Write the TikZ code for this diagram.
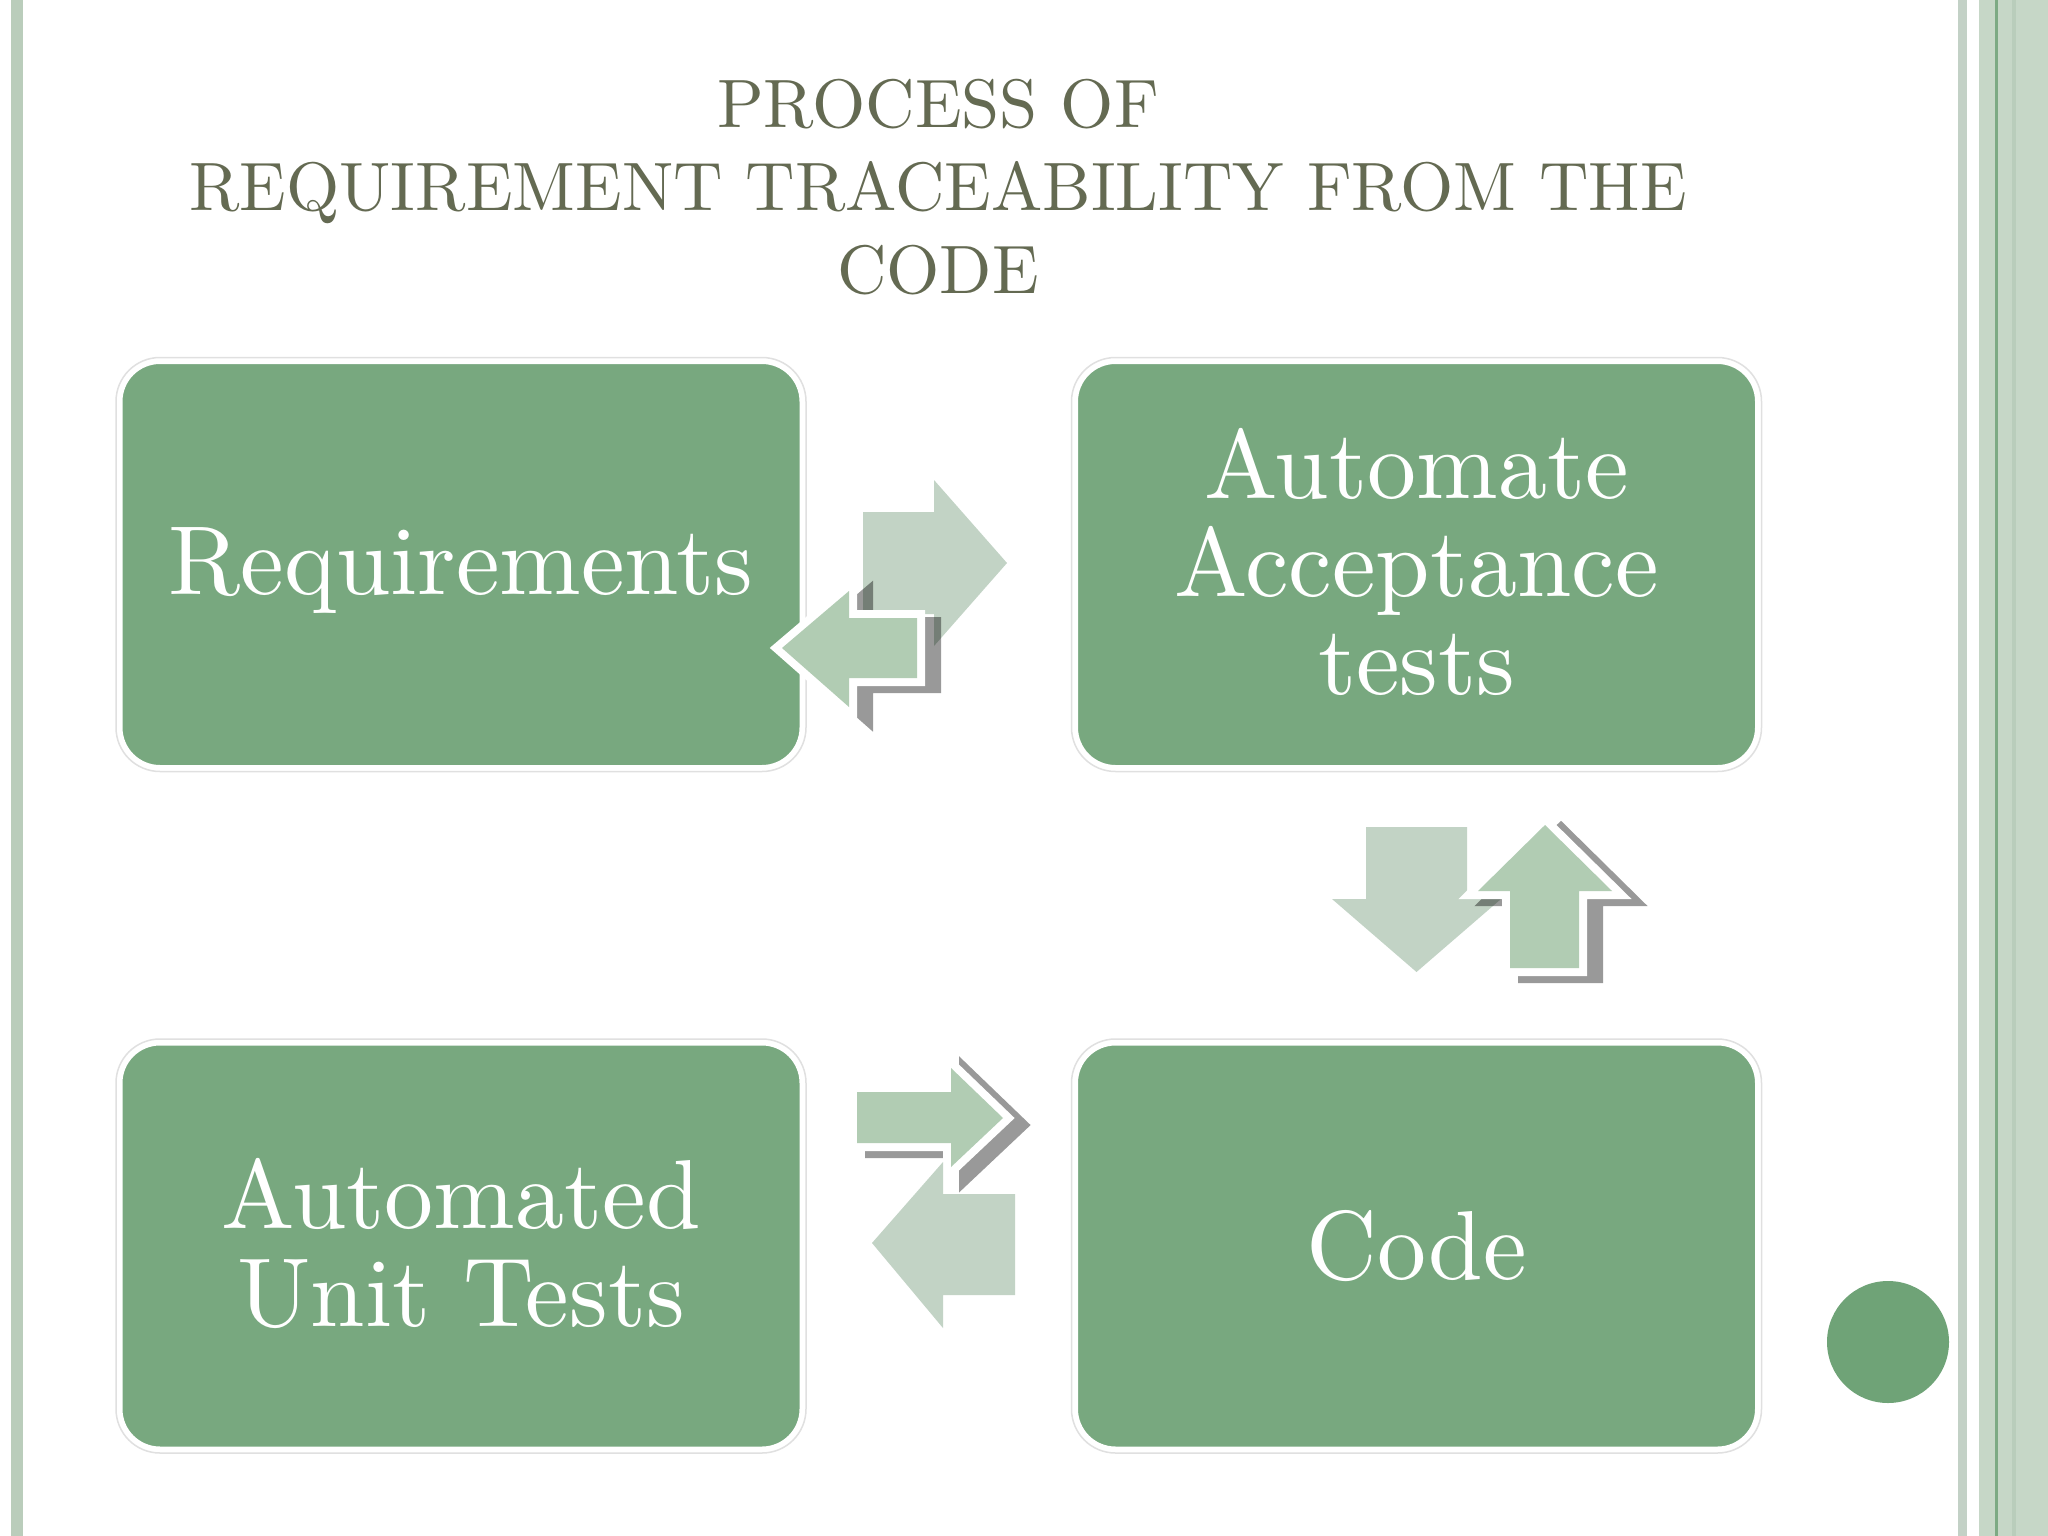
\documentclass[tikz,border=0pt]{standalone}
\usetikzlibrary{calc}
\definecolor{boxgreen}{HTML}{78A87F}
\definecolor{plainarr}{HTML}{C2D3C5}
\definecolor{outarr}{HTML}{B1CCB3}
\definecolor{titlecol}{HTML}{646A52}
\definecolor{stripe}{HTML}{BACDBB}
\definecolor{stripeb}{HTML}{C3D1C6}
\definecolor{band}{HTML}{C6D7C7}
\definecolor{bandline}{HTML}{7DAA84}
\definecolor{bandd}{HTML}{B9CDBB}
\definecolor{dotgreen}{HTML}{6FA377}
\tikzset{
  box/.style={rounded corners=40pt, fill=boxgreen, draw=white, line width=5pt,
    minimum width=682pt, minimum height=406pt, inner sep=0pt},
  boxtext/.style={scale=9.8, transform shape, align=center, text=white,
    font=\fontsize{10}{10.0}\selectfont, inner sep=0pt},
  titletext/.style={scale=6.85, transform shape, align=center, text=titlecol,
    font=\fontsize{10}{12.1}\selectfont, inner sep=0pt},
  boxring/.style={draw=black!12, line width=1.5pt, rounded corners=44pt},
  plainarrow/.style={fill=plainarr},
  outarrow/.style={fill=outarr},
  outline/.style={draw=white, line width=16pt, line join=miter},
  shadowpath/.style={fill=black, draw=black, line width=16pt, line join=miter}
}
\begin{document}
\begin{tikzpicture}[x=1pt,y=-1pt]
\useasboundingbox (0,0) rectangle (2048,1536);
\fill[white] (0,0) rectangle (2048,1536);
% side decorations
\fill[stripe] (11,0) rectangle (23,1536);
\fill[stripeb] (1958,0) rectangle (1967,1536);
\fill[band] (1979,0) rectangle (2048,1536);
\fill[bandd] (2012,0) rectangle (2016,1536);
\fill[bandline] (1995,0) rectangle (1997.5,1536);
% title
\node[titletext] (title) at (938,187)
  {PROCESS OF\\REQUIREMENT TRACEABILITY FROM THE\\CODE};
% boxes
\foreach \cx/\cy in {461/564.5, 1416.5/564.5, 461/1246, 1416.5/1246}
  \draw[boxring] (\cx-345,\cy-207) rectangle (\cx+345,\cy+207);
\node[box] (req) at (461,564.5) {};
\node[box] (aat) at (1416.5,564.5) {};
\node[box] (aut) at (461,1246) {};
\node[box] (code) at (1416.5,1246) {};
\node[boxtext] (reqt) at ([yshift=-6pt]req.center) {Requirements};
\node[boxtext] (aatt) at ([yshift=3pt]aat.center) {Automate\\Acceptance\\tests};
\node[boxtext] (autt) at ([yshift=3pt]aut.center) {Automated\\Unit Tests};
\node[boxtext] (codet) at (code) {Code};
% top pair: right (plain), left (outlined)
\fill[plainarrow] (863,512) -- (934,512) -- (934,480) -- (1007,563) -- (934,646) -- (934,614) -- (863,614) -- cycle;
\begin{scope}[transparency group, opacity=0.4, shift={(16,7)}]
  \filldraw[shadowpath] (782,648) -- (849,591) -- (849,618) -- (917,618) -- (917,678) -- (849,678) -- (849,707) -- cycle;
\end{scope}
\draw[outline] (782,648) -- (849,591) -- (849,618) -- (917,618) -- (917,678) -- (849,678) -- (849,707) -- cycle;
\fill[outarrow] (782,648) -- (849,591) -- (849,618) -- (917,618) -- (917,678) -- (849,678) -- (849,707) -- cycle;
% right pair: down (plain), up (outlined)
\fill[plainarrow] (1366,827) -- (1467,827) -- (1467,899) -- (1501,899) -- (1416.5,972) -- (1332,899) -- (1366,899) -- cycle;
\begin{scope}[transparency group, opacity=0.4, shift={(16,7)}]
  \filldraw[shadowpath] (1545,825) -- (1612,891) -- (1579,891) -- (1579,968) -- (1510,968) -- (1510,891) -- (1478,891) -- cycle;
\end{scope}
\draw[outline] (1545,825) -- (1612,891) -- (1579,891) -- (1579,968) -- (1510,968) -- (1510,891) -- (1478,891) -- cycle;
\fill[outarrow] (1545,825) -- (1612,891) -- (1579,891) -- (1579,968) -- (1510,968) -- (1510,891) -- (1478,891) -- cycle;
% bottom pair: right (outlined), left (plain)
\begin{scope}[transparency group, opacity=0.4, shift={(16,7)}]
  \filldraw[shadowpath] (857,1092) -- (951,1092) -- (951,1068) -- (1003,1118) -- (951,1167) -- (951,1143) -- (857,1143) -- cycle;
\end{scope}
\draw[outline] (857,1092) -- (951,1092) -- (951,1068) -- (1003,1118) -- (951,1167) -- (951,1143) -- (857,1143) -- cycle;
\fill[outarrow] (857,1092) -- (951,1092) -- (951,1068) -- (1003,1118) -- (951,1167) -- (951,1143) -- (857,1143) -- cycle;
\fill[plainarrow] (872,1243) -- (943,1162) -- (943,1194) -- (1015,1194) -- (1015,1295) -- (943,1295) -- (943,1328) -- cycle;
% dot
\node[circle, fill=dotgreen, minimum size=122pt, inner sep=0pt] (dot) at (1888,1342) {};
\end{tikzpicture}
\end{document}
